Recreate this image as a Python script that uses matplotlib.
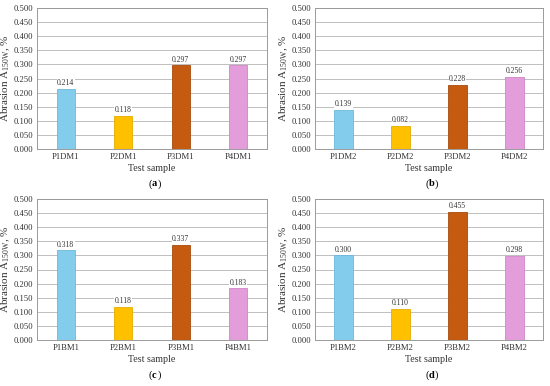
import numpy as np
import matplotlib.pyplot as plt

plt.rcParams['font.family'] = ['Liberation Serif', 'DejaVu Serif']

# data
samples_a = ['P1DM1', 'P2DM1', 'P3DM1', 'P4DM1']
values_a = [0.214, 0.118, 0.297, 0.297]
samples_b = ['P1DM2', 'P2DM2', 'P3DM2', 'P4DM2']
values_b = [0.139, 0.082, 0.228, 0.256]
samples_c = ['P1BM1', 'P2BM1', 'P3BM1', 'P4BM1']
values_c = [0.318, 0.118, 0.337, 0.183]
samples_d = ['P1BM2', 'P2BM2', 'P3BM2', 'P4BM2']
values_d = [0.300, 0.110, 0.455, 0.298]
panel_tags = ['a', 'b', 'c', 'd']

colors = ['#84ccec', '#ffc000', '#c55a11', '#e39ddb']
edges = ['#6ab8dc', '#e6ad00', '#a84a0c', '#cf86c8']
yticks = np.arange(0, 0.501, 0.05)

fig = plt.figure(figsize=(5.5, 3.86), dpi=100)
W, H = 550, 386
boxes = [(37, 8, 267, 149), (315, 8, 543, 149), (37, 199, 267, 340), (315, 199, 543, 340)]
panels = [(samples_a, values_a), (samples_b, values_b), (samples_c, values_c), (samples_d, values_d)]

for (x0, y0, x1, y1), (names, vals), tag in zip(boxes, panels, panel_tags):
    ax = fig.add_axes([x0 / W, 1 - y1 / H, (x1 - x0) / W, (y1 - y0) / H])
    x = np.arange(len(names))
    bars = ax.bar(x, vals, width=0.32, color=colors, edgecolor=edges, linewidth=0.6, zorder=3)
    for b, v in zip(bars, vals):
        ax.text(b.get_x() + b.get_width() / 2, v + 0.006, f'{v:.3f}', ha='center', va='bottom',
                fontsize=5.5, color='#333333', zorder=4,
                bbox=dict(facecolor='white', edgecolor='none', pad=0.3))
    ax.set_ylim(0, 0.5)
    ax.set_xlim(-0.5, len(names) - 0.5)
    ax.set_yticks(yticks)
    ax.set_yticklabels([f'{t:.3f}' for t in yticks])
    ax.set_xticks(x)
    ax.set_xticklabels(names)
    ax.tick_params(axis='both', labelsize=6.2, colors='#333333', length=0, pad=3)
    ax.grid(axis='y', color='#bfbfbf', linewidth=0.7, zorder=0)
    for s in ax.spines.values():
        s.set_color('#9a9a9a')
        s.set_linewidth(0.7)
    ax.set_xlabel('Test sample', fontsize=7.2, color='#333333', labelpad=2)
    ax.set_ylabel('Abrasion A$_{\\mathregular{150W}}$, %', fontsize=8, color='#333333', labelpad=1)
    cx = (x0 + x1) / 2 / W
    fig.text(cx, 1 - (y1 + 35) / H, '(', fontsize=7.5, ha='right', va='center')
    fig.text(cx, 1 - (y1 + 35) / H, tag, fontsize=7.5, ha='left', va='center', fontweight='bold')
    fig.text(cx + 0.011, 1 - (y1 + 35) / H, ')', fontsize=7.5, ha='left', va='center')

fig.savefig('out.png', dpi=100)
